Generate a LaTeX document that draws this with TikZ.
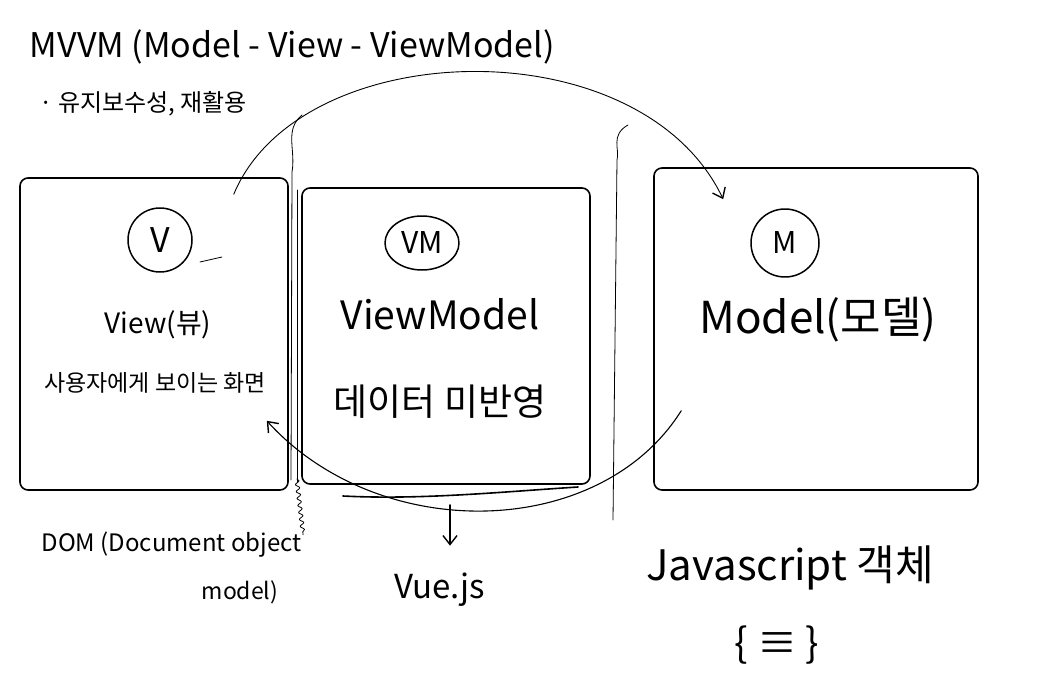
\documentclass[tikz,border=0pt]{standalone}
\usepackage{fontspec}
\setmainfont{Noto Sans CJK KR}
\usepackage{tikz}
\usetikzlibrary{positioning}
\usetikzlibrary{arrows, arrows.meta, shapes.geometric, decorations.pathmorphing}

\begin{document}
\begin{tikzpicture}[x=1pt, y=-1pt, line cap=round, line join=round,
    box/.style={draw, line width=1.6pt, rounded corners=8pt, inner sep=0pt},
    tag/.style={draw, line width=1.5pt, inner sep=0pt},
    pen/.style={line width=0.8pt},
    link/.style={line width=1.1pt, -{Straight Barb[length=9pt, width=14pt, line width=1.4pt]}}]
  \def\fbig{\fontsize{44}{48}\selectfont}
  \def\fmid{\fontsize{30}{34}\selectfont}
  \def\fsmall{\fontsize{23}{27}\selectfont}

  \useasboundingbox (0,0) rectangle (1061,690);

  % heading
  \node[anchor=west, font=\fontsize{34}{38}\selectfont] (title) at (26,47) {MVVM (Model - View - ViewModel)};
  \node[anchor=west, font=\fontsize{24}{28}\selectfont] (note) at (36,104) {· 유지보수성, 재활용};

  % boxes
  \node[box, minimum width=268pt, minimum height=312pt] (view) at (154,334) {};
  \node[box, minimum width=288pt, minimum height=296pt] (vm) at (446,336) {};
  \node[box, minimum width=324pt, minimum height=322pt] (model) at (816,329) {};

  % view
  \node[tag, circle, minimum size=64pt, font=\fontsize{34}{38}\selectfont] (v_tag) at (160,240) {V};
  \node[font=\fontsize{28}{32}\selectfont] (v_name) at (158,325) {View(뷰)};
  \node[font=\fsmall] (v_text) at (155,383) {사용자에게 보이는 화면};
  \draw[pen] (200,262) -- (222,257);

  % viewmodel
  \node[tag, ellipse, minimum width=74pt, minimum height=54pt, font=\fmid] (vm_tag) at (422,243) {VM};
  \node[font=\fontsize{39}{43}\selectfont] (vm_name) at (440,314) {ViewModel};
  \node[font=\fontsize{37}{41}\selectfont] (vm_text) at (440,402) {데이터 미반영};
  \draw[pen] (297,190) -- (297,482);
  \draw[line width=1.6pt] (343,496) .. controls (420,500) and (500,492) .. (578,487);

  % model
  \node[tag, circle, minimum size=68pt, font=\fmid] (m_tag) at (785,243) {M};
  \node[font=\fbig] (m_name) at (818,320) {Model(모델)};

  % vue.js area
  \draw[pen] (302,115) .. controls (284,130) and (296,150) .. (292,172) -- (291,480);
  \draw[pen] (628,125) .. controls (610,135) and (620,150) .. (617,160) -- (613,520);

  % labels below
  \node[anchor=west, font=\fontsize{24}{28}\selectfont] (dom) at (38,545) {DOM (Document object};
  \node[font=\fontsize{23}{27}\selectfont] (dom2) at (240,592) {model)};
  \node[font=\fontsize{33}{37}\selectfont] (vue) at (440,590) {Vue.js};
  \node[font=\fontsize{42}{46}\selectfont] (js) at (790,568) {Javascript 객체};
  \node[font=\fontsize{40}{44}\selectfont] (obj) at (777,645) {\{ ≡ \}};

  % connectors
  \path (view.north east) ++(-55,17) coordinate (v_out);
  \path (model.north west) ++(70,32) coordinate (m_in);
  \path (model.south west) ++(28,-80) coordinate (m_out);
  \path (view.south east) ++(-22,-70) coordinate (v_in);
  \path (vm.south) ++(4,20) coordinate (vm_down);
  \path (view.south east) ++(8,-12) coordinate (dom_ptr);

  \draw[link, line width=0.9pt] (v_out) .. controls (300,35) and (640,25) .. (m_in);
  \draw[link] (m_out) .. controls (600,540) and (380,545) .. (v_in);
  \draw[link] (vm_down) -- ([yshift=24pt]vue.north -| vm_down);
  \draw[pen, decorate, decoration={snake, amplitude=2pt, segment length=7pt}] (dom_ptr) -- ([xshift=-2pt, yshift=-6pt]dom.north east);

\end{tikzpicture}
\end{document}
